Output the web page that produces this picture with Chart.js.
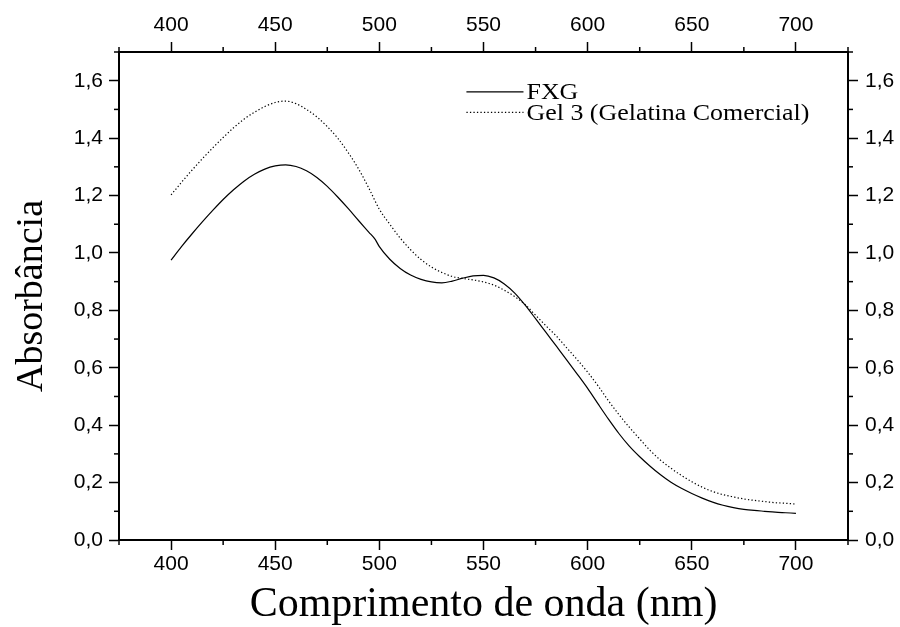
<!DOCTYPE html>
<html>
<head>
<meta charset="utf-8">
<script src="https://cdn.jsdelivr.net/npm/chart.js@4/dist/chart.umd.min.js"></script>
<style>
  body { margin: 0; background: #fff; }
  #wrap { width: 900px; height: 627px; }
</style>
</head>
<body>
<div id="wrap"><canvas id="grafico"></canvas></div>
<script>
const comprimentoFXG = [400, 405, 410, 415, 420, 425, 430, 435, 440, 445, 450, 455, 460, 465, 470, 475, 480, 485, 490, 495, 498,
  500, 505, 510, 515, 520, 525, 530, 535, 540, 545, 550, 555, 560, 565, 570, 575, 580, 585, 590, 595, 600,
  605, 610, 615, 620, 625, 630, 635, 640, 645, 650, 655, 660, 665, 670, 675, 680, 685, 690, 695, 700];
const absFXG = [0.975, 1.022, 1.066, 1.108, 1.148, 1.186, 1.22, 1.25, 1.274, 1.292, 1.303, 1.307, 1.301, 1.286, 1.263, 1.232, 1.195, 1.155, 1.113, 1.072, 1.047,
  1.022, 0.978, 0.946, 0.923, 0.908, 0.899, 0.896, 0.902, 0.912, 0.92, 0.922, 0.913, 0.892, 0.86, 0.818, 0.771, 0.723, 0.675, 0.627, 0.578, 0.528,
  0.474, 0.421, 0.371, 0.327, 0.29, 0.257, 0.227, 0.201, 0.18, 0.162, 0.146, 0.132, 0.121, 0.113, 0.107, 0.103, 0.1, 0.097, 0.095, 0.093];

const comprimentoGel = [400, 405, 410, 415, 420, 425, 430, 435, 440, 445, 450, 455, 460, 465, 470, 475, 480, 485, 490, 495,
  500, 505, 510, 515, 520, 525, 530, 535, 540, 545, 550, 555, 560, 565, 570, 575, 580, 585, 590, 595, 600,
  605, 610, 615, 620, 625, 630, 635, 640, 645, 650, 655, 660, 665, 670, 675, 680, 685, 690, 695, 700];
const absGel = [1.202, 1.246, 1.288, 1.328, 1.366, 1.402, 1.436, 1.466, 1.49, 1.51, 1.524, 1.529, 1.52, 1.5, 1.474, 1.44, 1.4, 1.35, 1.293, 1.225,
  1.152, 1.1, 1.052, 1.011, 0.977, 0.951, 0.932, 0.918, 0.911, 0.906, 0.899, 0.888, 0.87, 0.848, 0.82, 0.783, 0.746, 0.71, 0.669, 0.628, 0.585,
  0.537, 0.485, 0.437, 0.393, 0.352, 0.312, 0.278, 0.25, 0.225, 0.203, 0.184, 0.169, 0.158, 0.15, 0.143, 0.138, 0.134, 0.13, 0.128, 0.125];

const rotulos = ['FXG', 'Gel 3 (Gelatina Comercial)'];

const fonteTicks = { family: 'Liberation Sans', size: 21 };

function virgula(v) {
  return v.toFixed(1).replace('.', ',');
}
function ehMaiorX(v) { return Math.round(v) % 50 === 0; }
function ehMaiorY(v) { return Math.round(v * 10) % 2 === 0; }

function pontos(xs, ys) {
  return xs.map((x, i) => ({ x: x, y: ys[i] }));
}

// eixo x (baixo e topo)
function eixoX(pos, titulo) {
  return {
    type: 'linear',
    position: pos,
    min: 375,
    max: 725,
    grid: {
      drawOnChartArea: false,
      tickLength: 10,
      tickWidth: 1.5,
      tickColor: (c) => (c.tick && ehMaiorX(c.tick.value) ? '#000' : 'rgba(0,0,0,0)')
    },
    border: { display: true, color: '#000', width: 2 },
    ticks: {
      stepSize: 25,
      autoSkip: false,
      maxRotation: 0,
      color: '#000',
      font: fonteTicks,
      padding: pos === 'top' ? 4 : 2,
      callback: (v) => (ehMaiorX(v) && v >= 400 && v <= 700 ? String(v) : '')
    },
    title: titulo ? {
      display: true,
      text: titulo,
      color: '#000',
      font: { family: 'Liberation Serif', size: 42, lineHeight: 1 },
      padding: { top: 0, bottom: 1 }
    } : { display: false },
    afterFit: (s) => { s.height = pos === 'top' ? 52 : 87; }
  };
}

// eixo y (esquerda e direita)
function eixoY(pos, titulo) {
  return {
    type: 'linear',
    position: pos,
    min: 0,
    max: 1.7,
    grid: {
      drawOnChartArea: false,
      tickLength: 10,
      tickWidth: 1.5,
      tickColor: (c) => (c.tick && ehMaiorY(c.tick.value) ? '#000' : 'rgba(0,0,0,0)')
    },
    border: { display: true, color: '#000', width: 2 },
    ticks: {
      stepSize: 0.1,
      autoSkip: false,
      color: '#000',
      font: fonteTicks,
      padding: pos === 'left' ? 6 : 7,
      callback: (v) => (ehMaiorY(v) && v <= 1.65 ? virgula(v) : '')
    },
    title: titulo ? {
      display: true,
      text: titulo,
      color: '#000',
      font: { family: 'Liberation Serif', size: 38, lineHeight: 1 },
      padding: { top: 13, bottom: 0 }
    } : { display: false },
    afterFit: (s) => { s.width = pos === 'left' ? 119 : 52; }
  };
}

// traços menores (metade do comprimento)
const tracosMenores = {
  id: 'tracosMenores',
  afterDraw(chart) {
    const ctx = chart.ctx;
    const area = chart.chartArea;
    ctx.save();
    ctx.strokeStyle = '#000';
    ctx.lineWidth = 1.5;
    ['x', 'x2', 'y', 'y2'].forEach((id) => {
      const s = chart.scales[id];
      s.ticks.forEach((t) => {
        const horiz = s.isHorizontal();
        if (horiz ? ehMaiorX(t.value) : ehMaiorY(t.value)) return;
        const p = s.getPixelForValue(t.value);
        ctx.beginPath();
        if (s.position === 'bottom') { ctx.moveTo(p, area.bottom); ctx.lineTo(p, area.bottom + 5); }
        if (s.position === 'top') { ctx.moveTo(p, area.top); ctx.lineTo(p, area.top - 5); }
        if (s.position === 'left') { ctx.moveTo(area.left, p); ctx.lineTo(area.left - 5, p); }
        if (s.position === 'right') { ctx.moveTo(area.right, p); ctx.lineTo(area.right + 5, p); }
        ctx.stroke();
      });
    });
    ctx.restore();
  }
};

// legenda dentro da área do gráfico
const legendaInterna = {
  id: 'legendaInterna',
  afterDraw(chart) {
    const ctx = chart.ctx;
    const x0 = chart.scales.x.getPixelForValue(541.8);
    const x1 = chart.scales.x.getPixelForValue(569.2);
    const ys = [chart.scales.y.getPixelForValue(1.561), chart.scales.y.getPixelForValue(1.49)];
    ctx.save();
    chart.data.datasets.forEach((ds, i) => {
      ctx.strokeStyle = '#000';
      ctx.lineWidth = ds.borderWidth;
      ctx.setLineDash(ds.borderDash || []);
      ctx.beginPath();
      ctx.moveTo(x0, ys[i]);
      ctx.lineTo(x1, ys[i]);
      ctx.stroke();
      ctx.setLineDash([]);
      ctx.fillStyle = '#000';
      ctx.font = '24px "Liberation Serif"';
      ctx.textBaseline = 'middle';
      ctx.save();
      ctx.translate(x1 + 3, ys[i] + 1);
      ctx.scale(1.08, 1);
      ctx.fillText(ds.label, 0, 0);
      ctx.restore();
    });
    ctx.restore();
  }
};

new Chart(document.getElementById('grafico'), {
  type: 'line',
  data: {
    datasets: [
      {
        label: rotulos[0],
        data: pontos(comprimentoFXG, absFXG),
        borderColor: '#000',
        borderWidth: 1.2,
        pointRadius: 0,
        cubicInterpolationMode: 'monotone',
        xAxisID: 'x',
        yAxisID: 'y'
      },
      {
        label: rotulos[1],
        data: pontos(comprimentoGel, absGel),
        borderColor: '#000',
        borderWidth: 1.2,
        borderDash: [1.3, 2.2],
        pointRadius: 0,
        cubicInterpolationMode: 'monotone',
        xAxisID: 'x',
        yAxisID: 'y'
      }
    ]
  },
  options: {
    responsive: true,
    maintainAspectRatio: false,
    animation: false,
    layout: { padding: 0 },
    plugins: {
      legend: { display: false },
      tooltip: { enabled: false }
    },
    scales: {
      x: eixoX('bottom', 'Comprimento de onda (nm)'),
      x2: eixoX('top', null),
      y: eixoY('left', 'Absorbância'),
      y2: eixoY('right', null)
    }
  },
  plugins: [tracosMenores, legendaInterna]
});
</script>
</body>
</html>
